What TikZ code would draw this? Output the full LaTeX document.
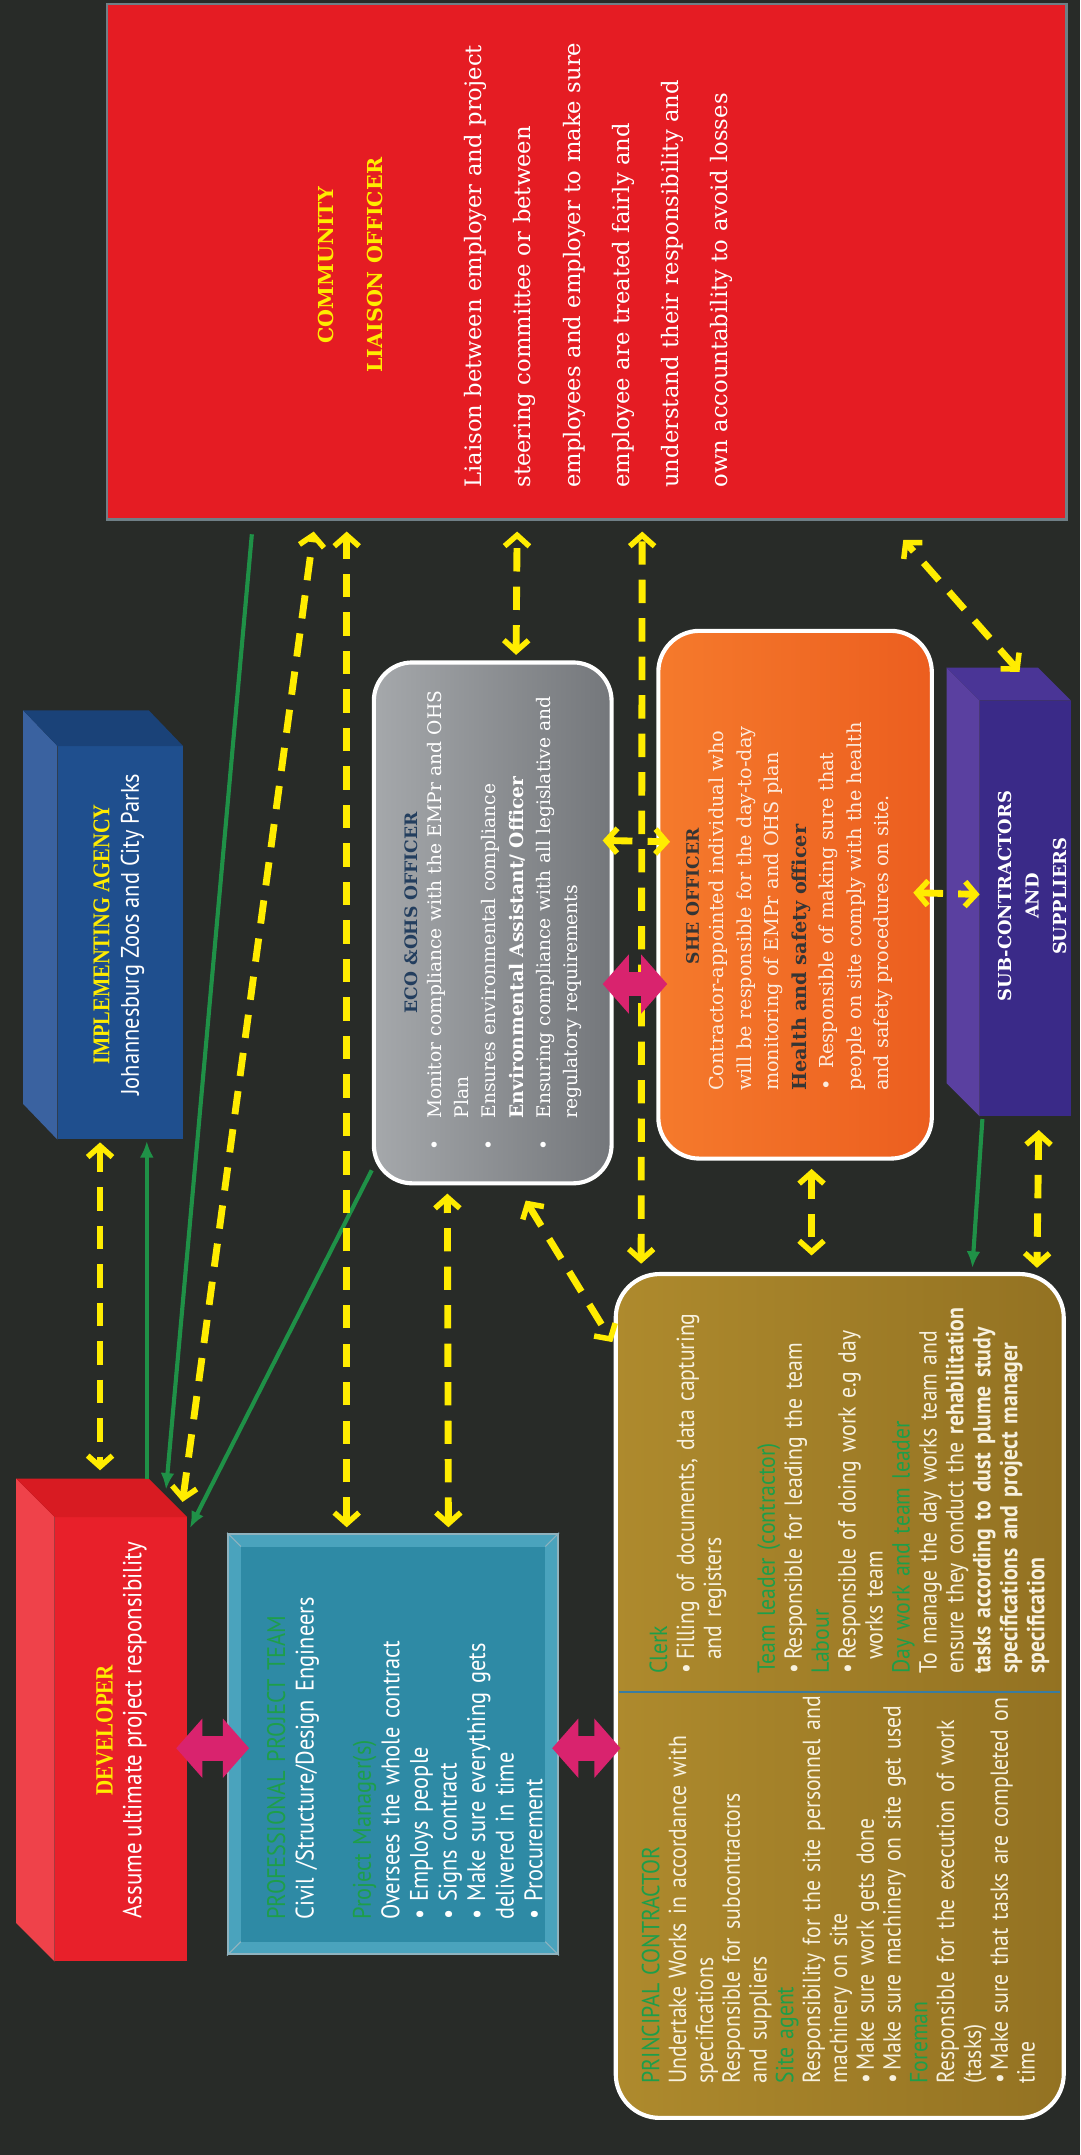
\documentclass[tikz,border=0pt]{standalone}
\usepackage{fontspec}
\setmainfont{DejaVu Serif}
\newfontfamily\condsans[FakeStretch=0.88]{PT Sans}
\newfontfamily\condserif[FakeStretch=0.85]{Liberation Serif}
\usetikzlibrary{arrows.meta}
\definecolor{bgc}{HTML}{282B28}
\definecolor{yel}{HTML}{FFEC00}
\definecolor{grn}{HTML}{1E9E4A}
\definecolor{lgrn}{HTML}{1F9147}
\definecolor{pnk}{HTML}{D9236E}
\definecolor{redf}{HTML}{E51C23}
\definecolor{commline}{HTML}{6F7F86}
\definecolor{agfront}{HTML}{1F4F8E}
\definecolor{agside}{HTML}{3A62A0}
\definecolor{agtop}{HTML}{1A4278}
\definecolor{devfront}{HTML}{E8202A}
\definecolor{devside}{HTML}{EF424A}
\definecolor{devtop}{HTML}{D81B22}
\definecolor{subfront}{HTML}{3A2A88}
\definecolor{subside}{HTML}{5A40A0}
\definecolor{subtop}{HTML}{4A3596}
\definecolor{profout}{HTML}{4AA3BD}
\definecolor{profin}{HTML}{2E8AA5}
\definecolor{profline}{HTML}{8FB3BF}
\definecolor{goldl}{HTML}{AE8A2D}
\definecolor{goldr}{HTML}{937222}
\definecolor{grayl}{HTML}{A5A8AB}
\definecolor{grayr}{HTML}{74777B}
\definecolor{orl}{HTML}{F57A2C}
\definecolor{orr}{HTML}{EC5E1F}
\definecolor{cream}{HTML}{F7F1DE}
\definecolor{ecohead}{HTML}{233E5E}
\definecolor{shedark}{HTML}{353535}
\definecolor{shetext}{HTML}{FCEBDD}
\definecolor{divline}{HTML}{3A7CA0}
\tikzset{
  rtext/.style={rotate=90, inner sep=0pt},
  ydash/.style={draw=yel, line width=5pt, dash pattern=on 17pt off 11pt,
    {Straight Barb[length=8pt,width=18pt,line width=4pt]}-{Straight Barb[length=8pt,width=18pt,line width=4pt]}},
  garrow/.style={draw=lgrn, line width=3pt, -{Latex[length=12pt,width=10pt]}},
  parrow/.style={draw=pnk, line width=18pt, {Triangle[length=19pt,width=42pt]}-{Triangle[length=19pt,width=42pt]}},
  softbox/.style={draw=white, line width=3pt, inner sep=0pt},
}
\begin{document}
\begin{tikzpicture}[x=1pt,y=1pt]
\path[use as bounding box, fill=bgc] (0,0) rectangle (786,-1568);

% ---------- boxes ----------
\node[draw=commline, line width=1.5pt, fill=redf, minimum width=698pt, minimum height=375pt, inner sep=0pt] (comm) at (427,-190.5) {};

\node[fill=agfront, minimum width=91pt, minimum height=286pt, inner sep=0pt] (agency) at (87.5,-686) {};
\fill[agside] (agency.north west) -- ++(-25,26) -- ([shift={(-25,26)}]agency.south west) -- (agency.south west) -- cycle;
\fill[agtop] (agency.north west) -- ++(-25,26) -- ([shift={(-25,26)}]agency.north east) -- (agency.north east) -- cycle;

\node[fill=devfront, minimum width=96pt, minimum height=323pt, inner sep=0pt] (dev) at (88,-1265.5) {};
\fill[devside] (dev.north west) -- ++(-28,28) -- ([shift={(-28,28)}]dev.south west) -- (dev.south west) -- cycle;
\fill[devtop] (dev.north west) -- ++(-28,28) -- ([shift={(-28,28)}]dev.north east) -- (dev.north east) -- cycle;

\node[fill=subfront, minimum width=66pt, minimum height=302pt, inner sep=0pt] (sub) at (746,-661) {};
\fill[subside] (sub.north west) -- ++(-24,24) -- ([shift={(-24,24)}]sub.south west) -- (sub.south west) -- cycle;
\fill[subtop] (sub.north west) -- ++(-24,24) -- ([shift={(-24,24)}]sub.north east) -- (sub.north east) -- cycle;

\node[draw=profline, line width=1.5pt, fill=profout, minimum width=240pt, minimum height=306pt, inner sep=0pt] (prof) at (286,-1269) {};
\fill[profin] ([shift={(10,-10)}]prof.north west) rectangle ([shift={(-10,10)}]prof.south east);
\draw[profline, line width=0.8pt] (prof.north east) -- ++(-10,-10) (prof.south east) -- ++(-10,10)
  (prof.north west) -- ++(10,-10) (prof.south west) -- ++(10,10);

\node[softbox, rounded corners=32pt, left color=goldl, right color=goldr, minimum width=326pt, minimum height=614pt] (princ) at (611,-1234) {};
\draw[divline, line width=1pt] ([shift={(4,3)}]princ.west) -- ([shift={(-4,3)}]princ.east);

\node[softbox, rounded corners=28pt, left color=grayl, right color=grayr, minimum width=173pt, minimum height=379pt] (eco) at (358.5,-671.5) {};
\node[softbox, rounded corners=30pt, left color=orl, right color=orr, minimum width=199pt, minimum height=384pt] (she) at (578.5,-651) {};

% ---------- texts ----------
\node[rtext, align=center, text=yel, font=\bfseries\fontsize{15}{36}\selectfont] (commtitle) at (255,-193) {COMMUNITY\\LIAISON OFFICER};
\node[rtext, anchor=west, text width=345pt, align=left, text=white, font=\fontsize{16.5}{35.8}\selectfont] (commbody) at (435.5,-355) {Liaison between employer and project\\steering committee or between\\employees and employer to make sure\\employee are treated fairly and\\understand their responsibility and\\own accountability to avoid losses};

\node[rtext, align=center, text=white, font=\condsans\fontsize{18.5}{21.5}\selectfont] (agtxt) at (86.5,-680) {{\condserif\bfseries\color{yel}\fontsize{17.5}{21.5}\selectfont IMPLEMENTING AGENCY}\\Johannesburg Zoos and City Parks};

\node[rtext, align=center, text=white, font=\condsans\fontsize{19}{21}\selectfont] (devtxt) at (88.5,-1259) {{\condserif\bfseries\color{yel}\fontsize{18}{21}\selectfont DEVELOPER}\\Assume ultimate project responsibility};

\node[rtext, anchor=west, text width=250pt, align=left, text=white, font=\condsans\fontsize{18.5}{20.8}\selectfont] (proftxt) at (294.5,-1397) {%
{\color{grn}PROFESSIONAL PROJECT TEAM}\\
Civil /Structure/Design Engineers\\[20.8pt]
{\color{grn}Project Manager(s)}\\
Oversees the whole contract\\
• Employs people\\
• Signs contract\\
• Make sure everything gets\\
delivered in time\\
• Procurement};

\node[rtext, anchor=west, text width=300pt, align=left, text=cream, font=\condsans\fontsize{18}{19.5}\selectfont] (princL) at (610,-1516) {%
{\color{grn}PRINCIPAL CONTRACTOR}\\
Undertake Works in accordance with\\
specifications\\
Responsible for subcontractors\\
and suppliers\\
{\color{grn}Site agent}\\
Responsibility for the site personnel and\\
machinery on site\\
\makebox[9pt][l]{•}Make sure work gets done\\
\makebox[9pt][l]{•}Make sure machinery on site get used\\
{\color{grn}Foreman}\\
Responsible for the execution of work\\
(tasks)\\
\makebox[9pt][l]{•}Make sure that tasks are completed on\\
time};

\node[rtext, anchor=west, text width=295pt, align=left, text=cream, font=\condsans\fontsize{18}{19.6}\selectfont] (princR) at (618,-1218) {%
{\color{grn}Clerk}\\
\makebox[10pt][l]{•}Filling of documents, data capturing\\
\hspace*{10pt}and registers\\[19.6pt]
{\color{grn}Team leader (contractor)}\\
\makebox[10pt][l]{•}Responsible for leading the team\\
{\color{grn}Labour}\\
\makebox[10pt][l]{•}Responsible of doing work e.g day\\
\hspace*{10pt}works team\\
{\color{grn}Day work and team leader}\\
To manage the day works team and\\
ensure they conduct the \textbf{rehabilitation}\\
\textbf{tasks according to dust plume study}\\
\textbf{specifications and project manager}\\
\textbf{specification}};

\node[rtext, text=ecohead, font=\bfseries\fontsize{12.5}{20}\selectfont] (ecohd) at (299,-664) {ECO \&OHS OFFICER};
\node[rtext, anchor=west, text width=370pt, align=left, text=white, font=\fontsize{13.6}{19.8}\selectfont] (ecobody) at (367,-837) {%
\makebox[23pt][l]{•}Monitor compliance with the EMPr and OHS\\
\hspace*{23pt}Plan\\
\makebox[23pt][l]{•}Ensures environmental compliance\\
\hspace*{23pt}\textbf{Environmental Assistant/ Officer}\\
\makebox[23pt][l]{•}Ensuring compliance with all legislative and\\
\hspace*{23pt}regulatory requirements};

\node[rtext, text=shedark, font=\bfseries\fontsize{12.5}{20}\selectfont] (shehd) at (504,-652) {SHE OFFICER};
\node[rtext, anchor=west, text width=300pt, align=left, text=shetext, font=\fontsize{14}{20}\selectfont] (shebody) at (583,-794) {%
Contractor-appointed individual who\\
will be responsible for the day-to-day\\
monitoring of EMPr and OHS plan\\
{\color{shedark}\textbf{Health and safety officer}}\\
\makebox[16pt][l]{•}Responsible of making sure that\\
people on site comply with the health\\
and safety procedures on site.};

\node[rtext, align=center, text=white, font=\bfseries\fontsize{13}{20}\selectfont] (subtxt) at (751,-652) {SUB-CONTRACTORS\\AND\\SUPPLIERS};

% ---------- connectors ----------
\draw[ydash] ([shift={(31,-2)}]agency.south west) -- ([shift={(33,34)}]dev.north west);
\draw[garrow] ([shift={(67,28)}]dev.north west) -- ([shift={(65,-1)}]agency.south west);
\draw[garrow] ([shift={(106,-10)}]comm.south west) -- ([shift={(81,20)}]dev.north west);
\draw[garrow] ([shift={(0,11)}]eco.south west) -- ([shift={(2,-8)}]dev.north east);
\draw[ydash] ([shift={(93,11)}]dev.north west) -- ([shift={(151,-8)}]comm.south west);
\draw[ydash] ([shift={(87,4)}]prof.north west) -- ([shift={(175,-8)}]comm.south west);
\draw[ydash] ([shift={(161,4)}]prof.north west) -- ([shift={(55,-6)}]eco.south west);
\draw[ydash] ([shift={(105,4)}]eco.north west) -- ([shift={(299,-8)}]comm.south west);
\draw[ydash] ([shift={(20,6)}]princ.north west) -- ([shift={(390,-8)}]comm.south west);
\draw[ydash] ([shift={(-8,-131)}]eco.north east) -- ([shift={(10,-155)}]she.north west);
\draw[ydash] ([shift={(113,-6)}]she.south west) -- ([shift={(144,12)}]princ.north west);
\draw[ydash] ([shift={(-15,-192)}]she.north east) -- ([shift={(0,-141)}]sub.north west);
\draw[ydash] ([shift={(29,21)}]sub.north west) -- ([shift={(580,-14)}]comm.south west);
\draw[garrow] ([shift={(2,-2)}]sub.south west) -- ([shift={(261,3)}]princ.north west);
\draw[ydash] ([shift={(43,-10)}]sub.south west) -- ([shift={(308,3)}]princ.north west);
\draw[ydash] ([shift={(112,-11)}]eco.south west) -- ([shift={(-1,-51)}]princ.north west);
\draw[parrow] ([shift={(-8,-44.5)}]eco.east) -- ([shift={(8,-65)}]she.west);
\draw[parrow] ([shift={(-8,-6.5)}]dev.east) -- ([shift={(16,-3)}]prof.west);
\draw[parrow] ([shift={(-5,-3)}]prof.east) -- ([shift={(5,-38)}]princ.west);
\end{tikzpicture}
\end{document}
